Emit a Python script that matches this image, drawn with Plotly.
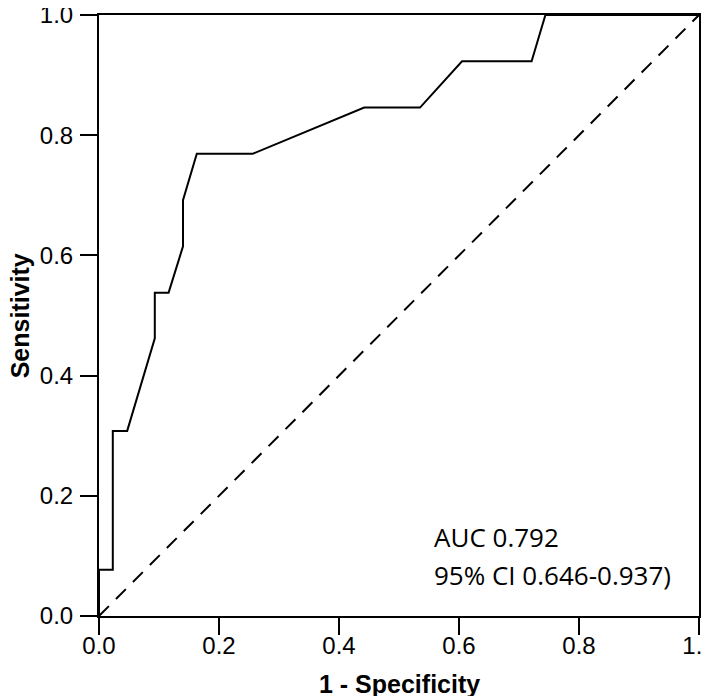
import plotly.graph_objects as go

# ROC curve points (1 - specificity, sensitivity)
fpr = [0.0, 0.0, 0.023, 0.023, 0.047, 0.093, 0.093, 0.116, 0.140, 0.140,
       0.163, 0.256, 0.442, 0.535, 0.605, 0.721, 0.744, 1.0]
tpr = [0.0, 0.077, 0.077, 0.308, 0.308, 0.462, 0.538, 0.538, 0.615, 0.692,
       0.769, 0.769, 0.846, 0.846, 0.923, 0.923, 1.0, 1.0]

ref_x = [0.0, 1.0]
ref_y = [0.0, 1.0]

tick_vals = [0.0, 0.2, 0.4, 0.6, 0.8, 1.0]
tick_text = ["0.0", "0.2", "0.4", "0.6", "0.8", "1.0"]

auc_line = "AUC 0.792"
ci_line = "95% CI 0.646-0.937)"

fig = go.Figure()

# reference diagonal
fig.add_trace(go.Scatter(x=ref_x, y=ref_y, mode="lines",
                         line=dict(color="black", width=2, dash="14px,10px"),
                         hoverinfo="skip", cliponaxis=False))

# ROC curve
fig.add_trace(go.Scatter(x=fpr, y=tpr, mode="lines",
                         line=dict(color="black", width=2),
                         cliponaxis=False))

text_font = dict(family="Open Sans", size=26, color="black")
fig.add_annotation(x=0.555, y=0.131, xref="x", yref="y", text=auc_line,
                   showarrow=False, xanchor="left", yanchor="middle",
                   font=text_font)
fig.add_annotation(x=0.555, y=0.069, xref="x", yref="y", text=ci_line,
                   showarrow=False, xanchor="left", yanchor="middle",
                   font=text_font)

title_font = dict(family="Liberation Sans", size=25, color="black")
# axis titles placed as annotations for exact positioning
fig.add_annotation(x=0.5, y=-0.113, xref="paper", yref="paper",
                   text="<b>1 - Specificity</b>", showarrow=False,
                   xanchor="center", yanchor="middle", font=title_font)
fig.add_annotation(x=-0.132, y=0.5, xref="paper", yref="paper",
                   text="<b>Sensitivity</b>", showarrow=False, textangle=-90,
                   xanchor="center", yanchor="middle", font=title_font)

axis_common = dict(
    range=[0, 1], tickvals=tick_vals, ticktext=tick_text,
    showline=True, linecolor="black", linewidth=2, mirror=True,
    ticks="outside", ticklen=17, tickwidth=2, tickcolor="black",
    showgrid=False, zeroline=False, ticklabeloverflow="allow",
    automargin=False,
    tickfont=dict(family="Liberation Sans", size=24, color="black"),
)

fig.update_xaxes(**axis_common, ticklabelstandoff=-10)
fig.update_yaxes(**axis_common, ticklabelstandoff=2)

fig.update_layout(
    width=709, height=696,
    margin=dict(l=91, r=18, t=7, b=88),
    plot_bgcolor="white", paper_bgcolor="white",
    showlegend=False,
)

fig.write_html("out.html")
